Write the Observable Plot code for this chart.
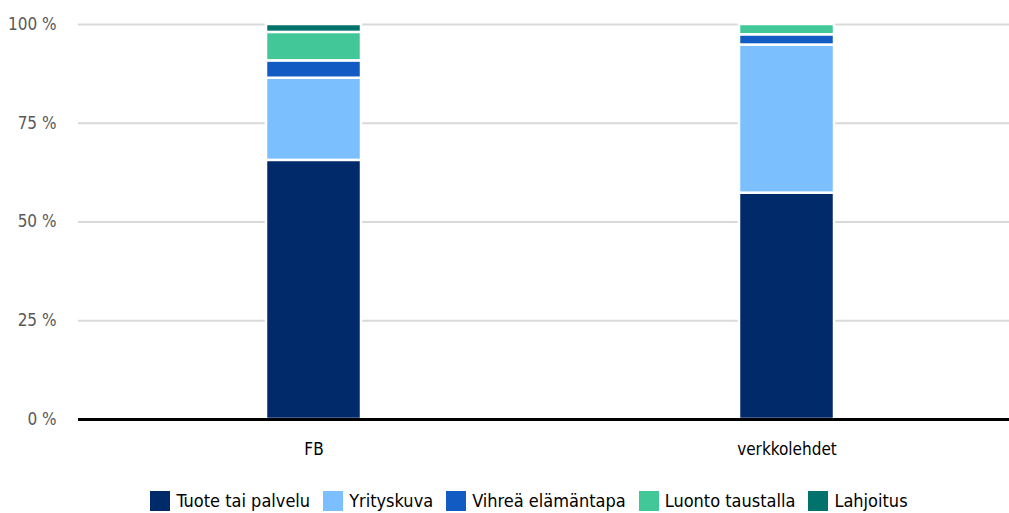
<!DOCTYPE html>
<html>
<head>
<meta charset="utf-8">
<script src="https://cdn.jsdelivr.net/npm/d3@7"></script>
<script src="https://cdn.jsdelivr.net/npm/@observablehq/plot@0.6"></script>
<style>
  body { margin: 0; background: #fff; font-family: "Liberation Sans Narrow", "DejaVu Sans Condensed", sans-serif; }
  #legend { display: flex; justify-content: center; align-items: center; gap: 13px; margin-top: 25px; padding-left: 49px; font-size: 18px; color: #000; }
  #legend .item { display: flex; align-items: center; gap: 6px; }
  #legend .sw { width: 20px; height: 20px; display: inline-block; }
</style>
</head>
<body>
<div id="chart"></div>
<div id="legend"></div>
<script>
const categories = ["FB", "verkkolehdet"];
const seriesNames = ["Tuote tai palvelu", "Yrityskuva", "Vihreä elämäntapa", "Luonto taustalla", "Lahjoitus"];
const seriesColors = ["#012a6b", "#7cbfff", "#115bc3", "#42c898", "#01726c"];
const tuote = [65.6, 57.3];
const yrityskuva = [20.8, 37.5];
const vihrea = [4.4, 2.6];
const luonto = [7.2, 2.6];
const lahjoitus = [2.0, 0];
const yTicks = [0, 25, 50, 75, 100];

const seriesValues = [tuote, yrityskuva, vihrea, luonto, lahjoitus];
const data = [];
seriesNames.forEach((s, i) => categories.forEach((c, j) => {
  data.push({category: c, series: s, value: seriesValues[i][j]});
}));

const chart = Plot.plot({
  width: 1009,
  height: 465,
  marginLeft: 78,
  marginRight: 0,
  marginTop: 24,
  marginBottom: 46,
  style: { fontFamily: '"Liberation Sans Narrow", "DejaVu Sans Condensed", sans-serif', fontSize: "17px", background: "#fff" },
  x: { domain: categories, range: [77, 1023], paddingInner: 0.8, paddingOuter: 0.4, label: null, tickSize: 0, tickPadding: 23 },
  y: { domain: [0, 100], label: null, ticks: yTicks, tickSize: 0, tickPadding: 22, tickFormat: d => d + " %" },
  color: { domain: seriesNames, range: seriesColors },
  marks: [
    Plot.ruleY(yTicks.filter(d => d > 0), { stroke: "#d9d9d9", strokeWidth: 2 }),
    Plot.barY(data, { x: "category", y: "value", fill: "series", stroke: "white", strokeWidth: 2.5, order: seriesNames }),
    Plot.axisY({ ticks: yTicks, tickSize: 0, tickPadding: 22, tickFormat: d => d + " %", fill: "#595959", fontSize: 17 }),
    Plot.axisX({ tickSize: 0, tickPadding: 23, fill: "#000", fontSize: 17 }),
    Plot.ruleY([0], { stroke: "#000", strokeWidth: 3 })
  ]
});
document.getElementById("chart").appendChild(chart);

const legend = document.getElementById("legend");
seriesNames.forEach((s, i) => {
  const item = document.createElement("div");
  item.className = "item";
  const sw = document.createElement("span");
  sw.className = "sw";
  sw.style.background = seriesColors[i];
  const t = document.createElement("span");
  t.textContent = s;
  item.appendChild(sw);
  item.appendChild(t);
  legend.appendChild(item);
});
</script>
</body>
</html>
